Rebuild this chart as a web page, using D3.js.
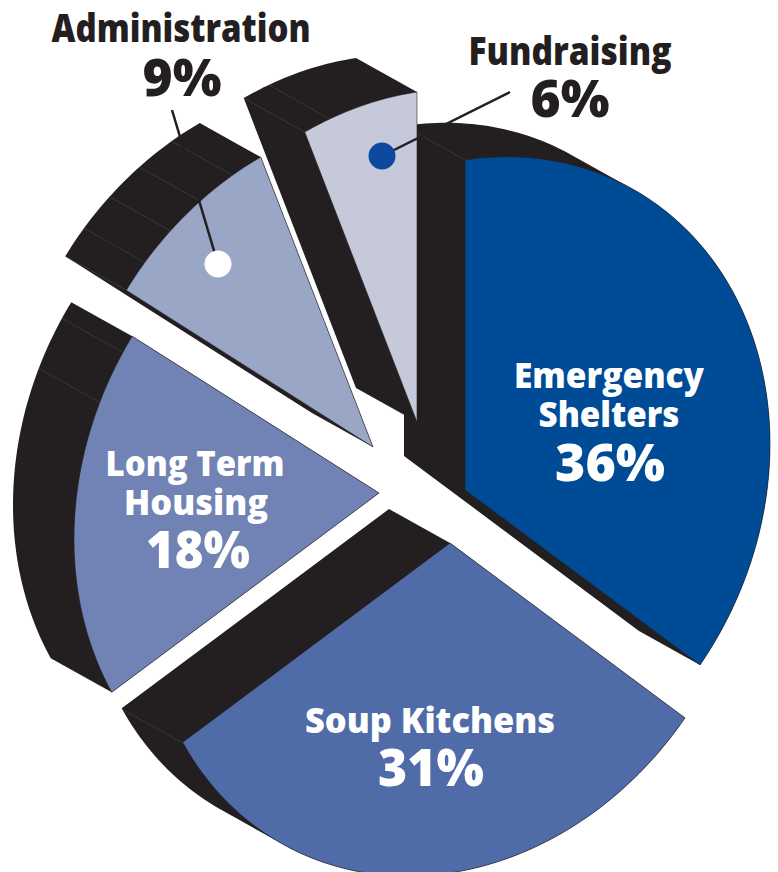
<!DOCTYPE html>
<html>
<head>
<meta charset="utf-8">
<script src="https://cdn.jsdelivr.net/npm/d3@7"></script>
<style>
  html, body { margin: 0; background: #fff; }
  svg { display: block; }
  text { font-family: "Open Sans", Lato, sans-serif; font-weight: 800; text-anchor: middle; }
</style>
</head>
<body>
<svg id="chart" width="778" height="872"></svg>
<script>
// data
const categories = ['Emergency Shelters', 'Soup Kitchens', 'Long Term Housing', 'Administration', 'Fundraising'];
const shares = [36, 31, 18, 9, 6];
const faceColors = ['#004b96', '#4f6ba8', '#7083b4', '#9aa6c6', '#c5c9da'];
// facet lines on the black sides, degrees clockwise from the top
const seams = [[0], [241], [293.7, 302.9], [306, 311.6, 318.4, 325.5, 332.6], [338.4, 343.4]];

// layout
const INK = '#231f20', SEAM = '#47474b';
const DEPTH = [-61, -34];
const APEX = [[465, 490], [450, 543], [379, 493], [373, 447], [417, 422]];
// pie disc seen at a tilt: unit circle -> screen
const AX = 305, SK = -46, AY = 330;

const svg = d3.select('#chart');

const rad = d3.scaleLinear().domain([0, 360]).range([0, 2 * Math.PI]);
const pie = d3.pie().sort(null).value(d => d);
const slices = pie(shares);

function project(apex, a) {
  const sn = Math.sin(a), cs = Math.cos(a);
  return [apex[0] + AX * sn, apex[1] + SK * sn - AY * cs];
}

function wedge(d, i) {
  const steps = d3.range(d.startAngle, d.endAngle, rad(1)).concat(d.endAngle);
  return [APEX[i]].concat(steps.map(a => project(APEX[i], a)));
}

const line = d3.line().curve(d3.curveLinearClosed);
const shift = p => [p[0] + DEPTH[0], p[1] + DEPTH[1]];

const gFace = svg.append('g');

slices.forEach((d, i) => {
  const pts = wedge(d, i);
  // wedge is convex, so the swept side is the hull of front and back
  const g = gFace.append('g');
  g.append('path')
    .attr('d', line(d3.polygonHull(pts.concat(pts.map(shift)))))
    .attr('fill', INK);
  g.selectAll('line').data(seams[i]).join('line')
    .each(function (deg) {
      const p = project(APEX[i], rad(deg)), q = shift(p);
      d3.select(this).attr('x1', p[0]).attr('y1', p[1]).attr('x2', q[0]).attr('y2', q[1]);
    })
    .attr('stroke', SEAM).attr('stroke-width', 0.6);
  g.append('path')
    .attr('d', line(pts))
    .attr('fill', faceColors[i])
    .attr('stroke', INK).attr('stroke-width', 0.6).attr('stroke-linejoin', 'miter');
});

// leaders for the two outside labels
const leaders = svg.append('g');
leaders.append('line').attr('x1', 172).attr('y1', 110).attr('x2', 218).attr('y2', 264)
  .attr('stroke', INK).attr('stroke-width', 2.5);
leaders.append('line').attr('x1', 382).attr('y1', 156).attr('x2', 510).attr('y2', 92)
  .attr('stroke', INK).attr('stroke-width', 2.5);
leaders.append('circle').attr('cx', 218).attr('cy', 264).attr('r', 13.5).attr('fill', '#fff');
leaders.append('circle').attr('cx', 382).attr('cy', 156).attr('r', 13.5).attr('fill', '#0d4a9f');

// labels: [text, centre x, baseline, width, size, colour]
const WHITE = '#fff';
const pct = i => shares[i] + '%';
const labels = [
  ['Emergency', 609, 388, 190, 35, WHITE],
  ['Shelters', 609, 427, 141, 35, WHITE],
  [pct(0), 610, 481, 110, 51, WHITE],
  ['Soup Kitchens', 430, 733, 250, 35, WHITE],
  [pct(1), 431, 786, 106, 51, WHITE],
  ['Long Term', 195, 476, 179, 36, WHITE],
  ['Housing', 196, 515, 144, 36, WHITE],
  [pct(2), 198, 568, 104, 51, WHITE],
  ['Administration', 181, 42, 259, 38, INK],
  [pct(3), 182, 96, 79, 51, INK],
  ['Fundraising', 570, 65, 203, 38, INK],
  [pct(4), 570, 117, 79, 51, INK],
];

svg.append('g').selectAll('text').data(labels).join('text')
  .attr('x', d => d[1]).attr('y', d => d[2])
  .attr('textLength', d => d[3]).attr('lengthAdjust', 'spacingAndGlyphs')
  .attr('font-size', d => d[4])
  .attr('fill', d => d[5])
  .text(d => d[0]);
</script>
</body>
</html>
